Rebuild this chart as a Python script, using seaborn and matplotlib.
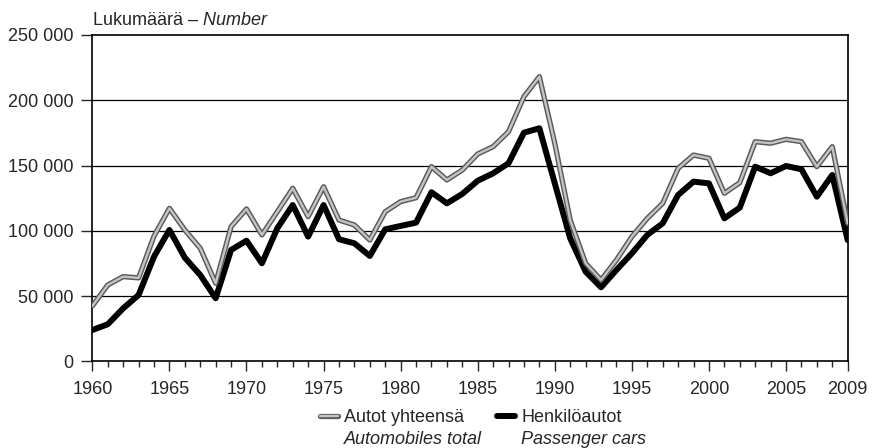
import matplotlib
matplotlib.use('Agg')

import numpy as np
import pandas as pd
import seaborn as sns
import matplotlib.pyplot as plt
from matplotlib.lines import Line2D
from matplotlib.legend_handler import HandlerTuple
from matplotlib.ticker import FuncFormatter, MultipleLocator

years = list(range(1960, 2010))

# Autot yhteensä - Automobiles total
total = [42500, 58600, 65000, 64000, 96000, 117300, 100700, 86700, 59900, 103200,
         116800, 96900, 114700, 132600, 110900, 133800, 108300, 104500, 93000, 114700,
         122400, 125400, 149200, 139000, 146600, 158900, 164500, 176000, 202800, 218100,
         167000, 108300, 75200, 62400, 77700, 95600, 109600, 121100, 147900, 158100,
         155600, 128800, 136900, 168300, 167100, 170100, 168300, 149200, 164500, 105800]

# Henkilöautot - Passenger cars
cars = [24100, 28500, 40700, 50900, 80300, 100700, 79500, 66200, 48400, 85400,
        92500, 75200, 102000, 119800, 95600, 119800, 93600, 90500, 80800, 101200,
        103800, 106300, 129600, 121100, 128300, 138400, 144100, 151800, 175200, 178600,
        136400, 94300, 68800, 56800, 70100, 82800, 96900, 105800, 127500, 137700,
        136400, 109600, 117800, 149200, 144100, 149700, 147200, 126200, 142800, 93000]

labels_fi = ['Autot yhteensä', 'Henkilöautot']
labels_en = ['Automobiles total', 'Passenger cars']

df = pd.DataFrame({'year': years, 'total': total, 'cars': cars})

sns.set_style("white")
plt.rcParams['font.family'] = ['Liberation Sans', 'DejaVu Sans']
plt.rcParams['mathtext.fontset'] = 'custom'
plt.rcParams['mathtext.it'] = 'Liberation Sans:italic'
plt.rcParams['mathtext.rm'] = 'Liberation Sans'
FS = 13

fig = plt.figure(figsize=(8.72, 4.48), dpi=100)
ax = fig.add_axes([0.1059, 0.1931, 0.8662, 0.7288])

for y in [50000, 100000, 150000, 200000]:
    ax.axhline(y, color='black', lw=0.9, zorder=1)

sns.lineplot(data=df, x='year', y='cars', ax=ax, color='black', lw=4.3, zorder=3)
sns.lineplot(data=df, x='year', y='total', ax=ax, color='#5a5a5a', lw=3.8, zorder=4)
sns.lineplot(data=df, x='year', y='total', ax=ax, color='#c4c4c4', lw=1.7, zorder=5)

ax.set_xlim(1960, 2009)
ax.set_ylim(0, 250000)
ax.set_xticks([1960, 1965, 1970, 1975, 1980, 1985, 1990, 1995, 2000, 2005, 2009])
ax.xaxis.set_minor_locator(MultipleLocator(1))
ax.set_yticks(range(0, 250001, 50000))
ax.yaxis.set_major_formatter(FuncFormatter(lambda v, p: f"{int(v):,}".replace(",", " ")))
ax.tick_params(axis='x', which='major', direction='out', length=7, width=1,
               pad=7.2, labelsize=FS, bottom=True)
ax.tick_params(axis='x', which='minor', direction='out', length=4.3, width=1, bottom=True)
ax.tick_params(axis='y', which='major', direction='out', length=8, width=1,
               pad=5.5, labelsize=FS, left=True)
ax.set_xlabel('')
ax.set_ylabel('')
for s in ax.spines.values():
    s.set_color('black')
    s.set_linewidth(1.2)

ax.text(0.0, 1.031, 'Lukumäärä – $\\mathit{Number}$', transform=ax.transAxes,
        fontsize=FS, va='baseline', ha='left')

h_total = (Line2D([], [], color='#5a5a5a', lw=3.8), Line2D([], [], color='#c4c4c4', lw=1.7))
h_cars = Line2D([], [], color='black', lw=4.3)
leg = fig.legend([h_total, h_cars], labels_fi,
                 handler_map={tuple: HandlerTuple(ndivide=1)},
                 loc='upper left', bbox_to_anchor=(320 / 872, 1 - 409 / 448),
                 bbox_transform=fig.transFigure, ncol=2,
                 frameon=False, fontsize=FS, handlelength=1.0, handletextpad=0.35,
                 columnspacing=1.8, borderpad=0.0, borderaxespad=0.0)

# second (English) line of each legend label, in italics under the Finnish one
fig.canvas.draw()
r = fig.canvas.get_renderer()
for t, en in zip(leg.get_texts(), labels_en):
    bb = t.get_window_extent(r)
    fig.text(bb.x0 / 872, (bb.y0 - 17.5) / 448, en, fontsize=FS, style='italic',
             ha='left', va='baseline')

fig.savefig('out.png', dpi=100)
